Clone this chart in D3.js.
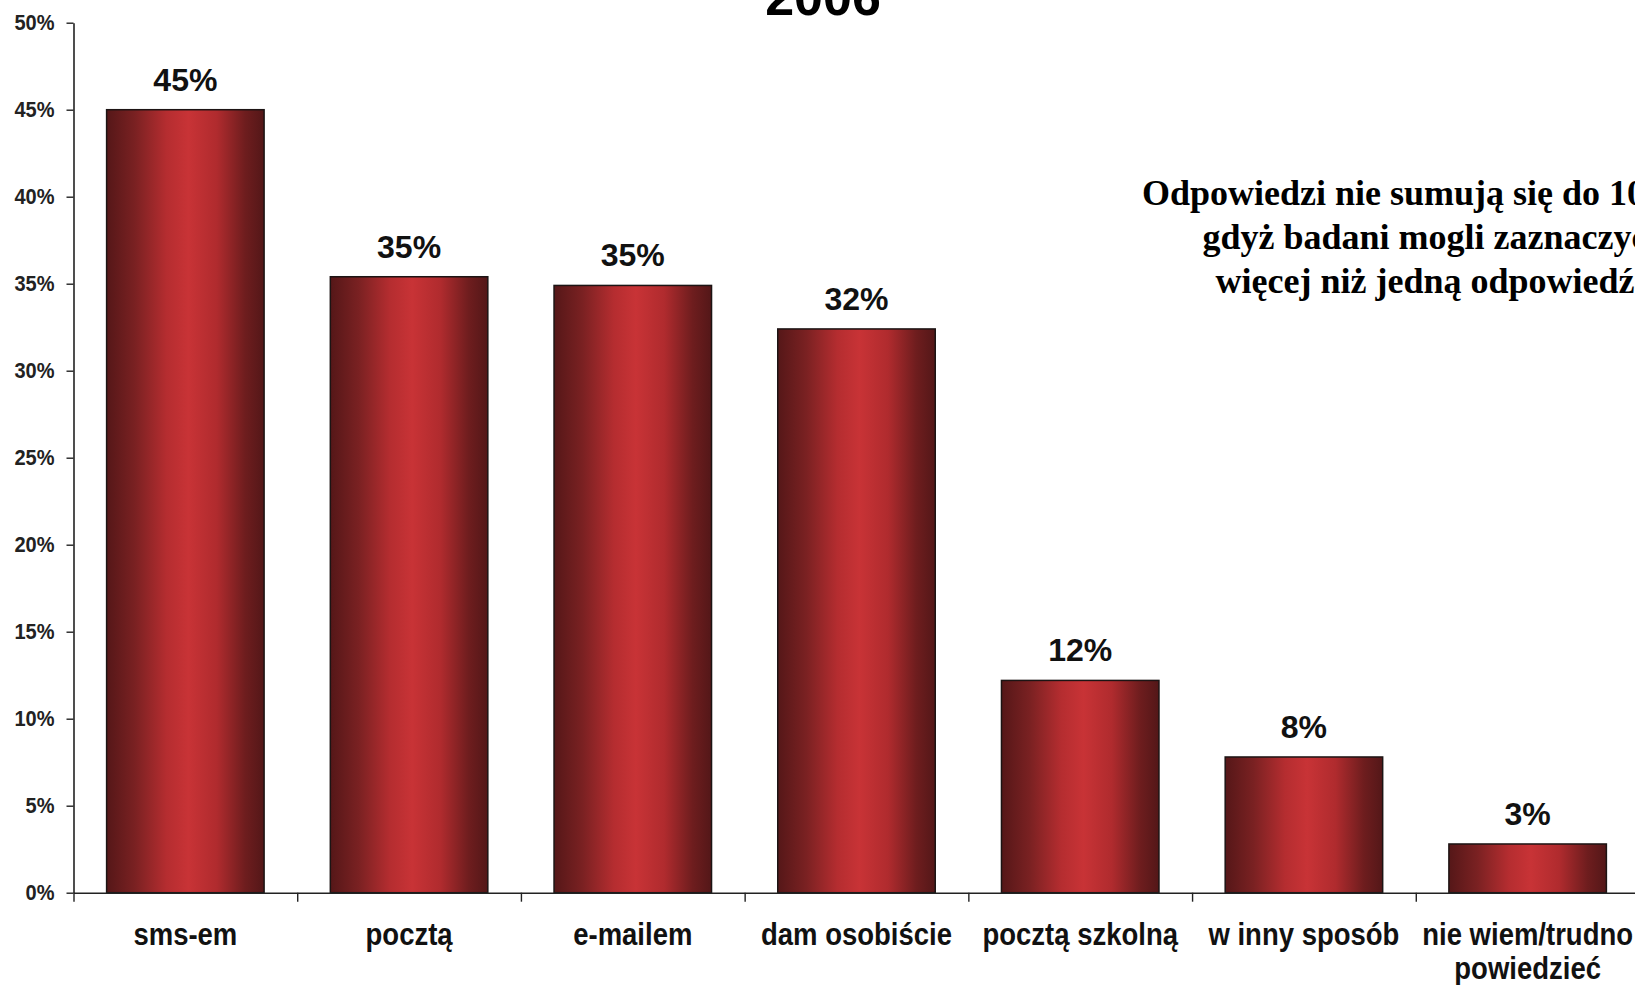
<!DOCTYPE html>
<html>
<head>
<meta charset="utf-8">
<script src="https://cdn.jsdelivr.net/npm/d3@7"></script>
<style>
  body { margin: 0; background: #fff; }
  text { font-family: "Liberation Sans", Arial, sans-serif; }
</style>
</head>
<body>
<div id="chart"></div>
<script>
let width = 1635
let height = 985
let margin = { left: 73.5, right: -4.5, top: 22.7, bottom: 92.3 }

//data
let categories = ["sms-em", "pocztą", "e-mailem", "dam osobiście", "pocztą szkolną", "w inny sposób", "nie wiem/trudno\npowiedzieć"]
let values = [45.0, 35.4, 34.9, 32.4, 12.2, 7.8, 2.8]
let yTicks = [0, 5, 10, 15, 20, 25, 30, 35, 40, 45, 50]
let title = "2006"
let note = ["Odpowiedzi nie sumują się do 100%,", "gdyż badani mogli zaznaczyć", "więcej niż jedną odpowiedź"]

let svg = d3.select("#chart").append("svg")
  .attr("width", width)
  .attr("height", height)

//bar gradient, dark edges and bright red middle
let grad = svg.append("defs").append("linearGradient")
  .attr("id", "barGrad")
  .attr("x1", "0%").attr("x2", "100%")
  .attr("y1", "0%").attr("y2", "0%")
let stops = [[0, "#551718"], [0.18, "#7a2122"], [0.38, "#b52d30"], [0.52, "#c83336"], [0.7, "#b02b2e"], [0.88, "#6e1d1e"], [1, "#531718"]]
grad.selectAll("stop")
  .data(stops)
  .enter()
  .append("stop")
  .attr("offset", d => d[0])
  .attr("stop-color", d => d[1])

//scales
let xScale = d3.scaleBand(d3.range(categories.length), [margin.left, width - margin.right])
  .paddingInner(0.296)
  .paddingOuter(0.148)

let yScale = d3.scaleLinear([0, 50], [height - margin.bottom, margin.top])

//bars
svg.selectAll(".bar")
  .data(values)
  .enter()
  .append("rect")
  .attr("class", "bar")
  .attr("x", (d, i) => xScale(i))
  .attr("y", d => yScale(d))
  .attr("width", xScale.bandwidth())
  .attr("height", d => yScale(0) - yScale(d))
  .attr("fill", "url(#barGrad)")
  .attr("stroke", "#1c1414")
  .attr("stroke-width", 1.5)

//value labels
svg.selectAll(".value")
  .data(values)
  .enter()
  .append("text")
  .attr("class", "value")
  .attr("x", (d, i) => xScale(i) + xScale.bandwidth() / 2)
  .attr("y", d => yScale(d) - 19)
  .attr("text-anchor", "middle")
  .attr("font-size", 32)
  .attr("font-weight", "bold")
  .attr("fill", "#111")
  .text(d => Math.round(d) + "%")

//y axis
let yAxis = d3.axisLeft(yScale)
  .tickValues(yTicks)
  .tickFormat(d => d + "%")
  .tickSize(7)
  .tickSizeOuter(0)
  .tickPadding(12)

let yG = svg.append("g")
  .attr("transform", "translate(" + margin.left + ",0)")
  .call(yAxis)
yG.select(".domain").attr("stroke", "#222").attr("stroke-width", 1.6)
yG.selectAll(".tick line").attr("stroke", "#222").attr("stroke-width", 1.4)
yG.selectAll(".tick text")
  .attr("font-family", "'Liberation Sans', Arial, sans-serif")
  .attr("font-size", 20)
  .attr("font-weight", "bold")
  .attr("fill", "#222")
  .attr("transform", "scale(1,1.12)")

//x axis: line with ticks on the category boundaries
let edges = d3.scaleLinear([0, categories.length], [margin.left, margin.left + xScale.step() * categories.length])
let xAxis = d3.axisBottom(edges)
  .tickValues(d3.range(categories.length + 1))
  .tickFormat("")
  .tickSize(9)
  .tickSizeOuter(0)

let xG = svg.append("g")
  .attr("transform", "translate(0," + yScale(0) + ")")
  .call(xAxis)
xG.select(".domain").attr("stroke", "#222").attr("stroke-width", 1.6)
xG.selectAll(".tick line").attr("stroke", "#222").attr("stroke-width", 1.4)

//category labels, split on line breaks
let catLabels = svg.selectAll(".cat")
  .data(categories)
  .enter()
  .append("text")
  .attr("class", "cat")
  .attr("transform", (d, i) => "translate(" + (xScale(i) + xScale.bandwidth() / 2) + ",945) scale(1,1.15)")
  .attr("text-anchor", "middle")
  .attr("font-size", 27.5)
  .attr("font-weight", "bold")
  .attr("fill", "#111")

catLabels.selectAll("tspan")
  .data(d => d.split("\n"))
  .enter()
  .append("tspan")
  .attr("x", 0)
  .attr("y", (d, i) => i * 29.5)
  .text(d => d)

//title, cut by the top edge
svg.append("text")
  .attr("x", 823)
  .attr("y", 15)
  .attr("text-anchor", "middle")
  .attr("font-size", 52)
  .attr("font-weight", "bold")
  .attr("fill", "#000")
  .text(title)

//note on the right, runs past the edge like the original
svg.selectAll(".note")
  .data(note)
  .enter()
  .append("text")
  .attr("class", "note")
  .attr("x", 1425)
  .attr("y", (d, i) => 205 + i * 44)
  .attr("text-anchor", "middle")
  .style("font-family", "'Liberation Serif', 'Times New Roman', serif")
  .attr("font-size", 36)
  .attr("font-weight", "bold")
  .attr("fill", "#000")
  .text(d => d)
</script>
</body>
</html>
